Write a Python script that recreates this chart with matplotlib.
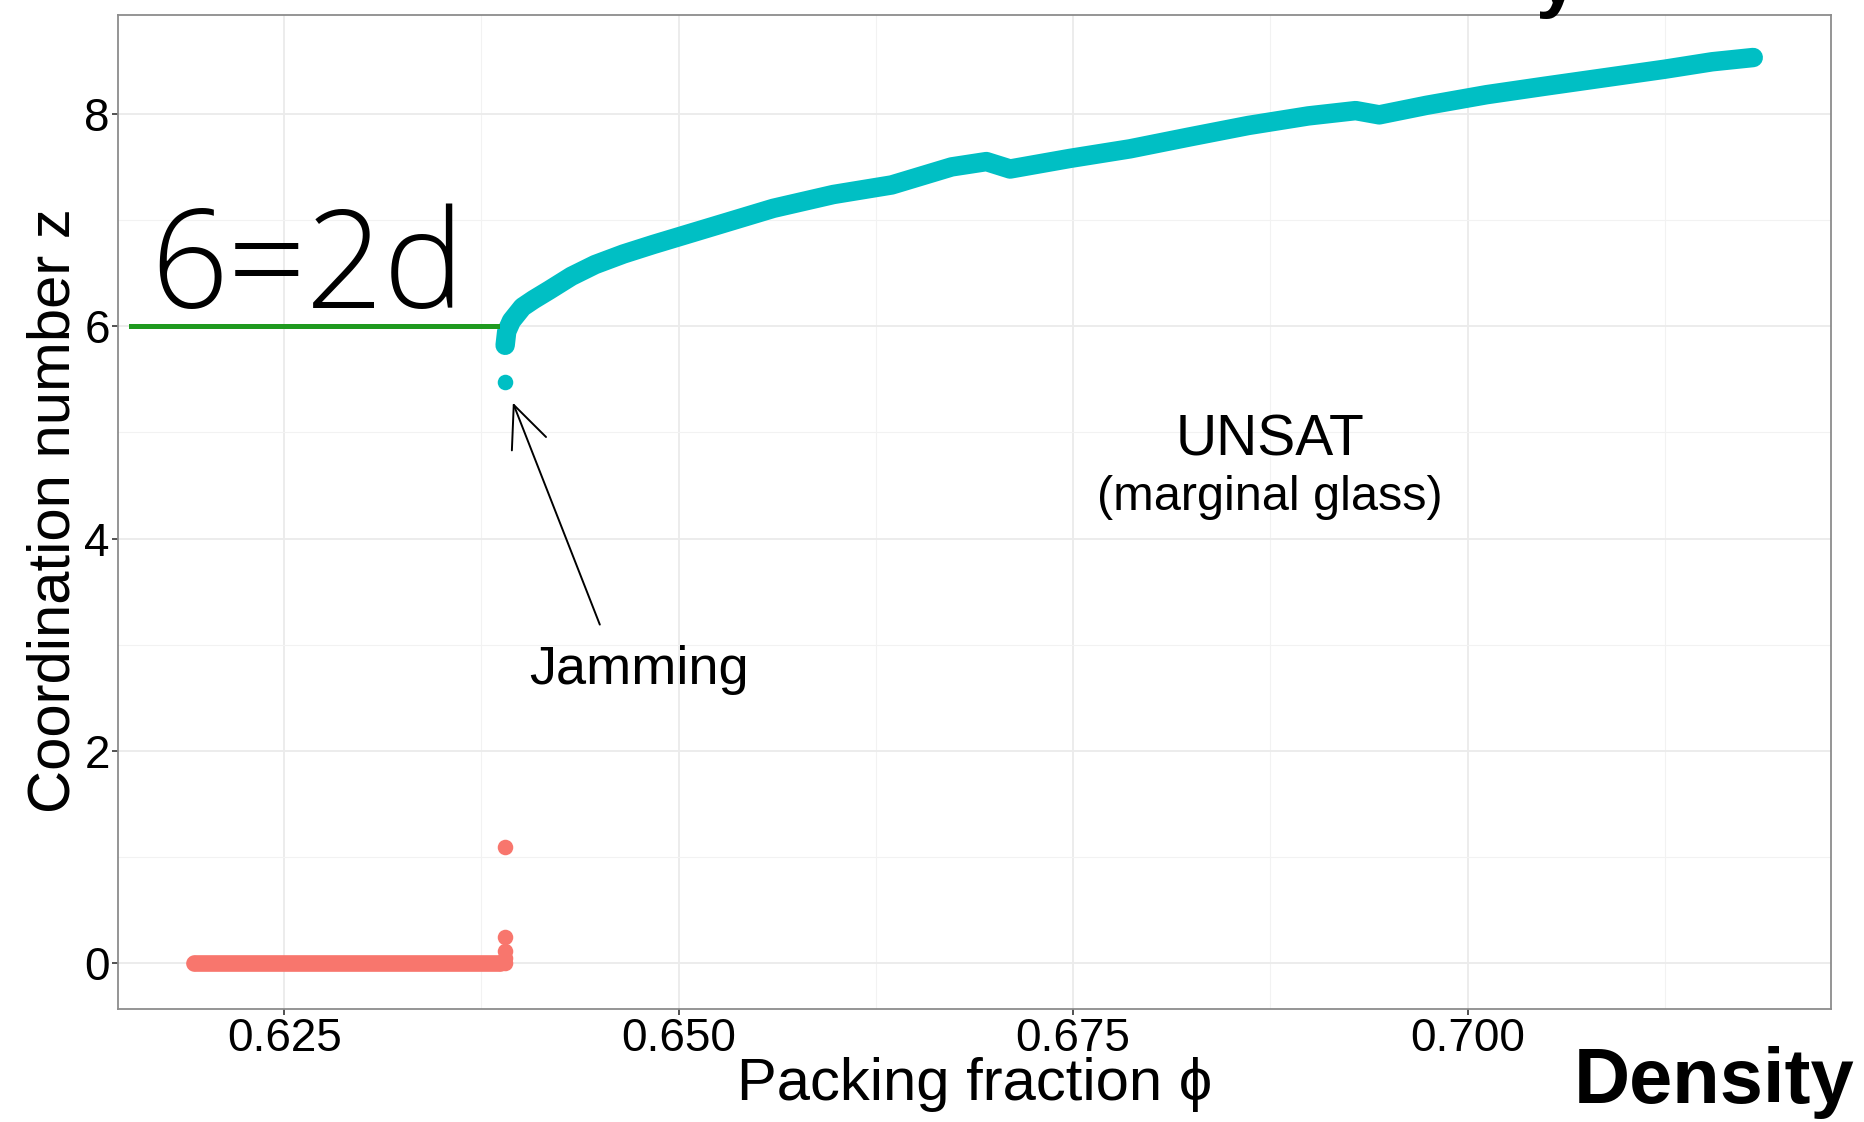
# jamming.py
# Coordination number z versus packing fraction phi across the jamming point

import matplotlib.pyplot as plt
from matplotlib.ticker import MultipleLocator

plt.rcParams['font.family'] = ['Liberation Sans', 'DejaVu Sans']

# SAT side: no contacts (red)
phi_sat = [0.6193, 0.6387, 0.6390, 0.6390, 0.6390, 0.6390, 0.6390]
z_sat = [0.0, 0.0, 0.0, 0.05, 0.12, 0.25, 1.10]

# UNSAT side: jammed packings (cyan), first value is the lone point below the curve
phi_unsat = [0.6390, 0.6390, 0.6391, 0.6394, 0.6401, 0.6408, 0.6418, 0.6432,
             0.6447, 0.6465, 0.6484, 0.6522, 0.6560, 0.6598, 0.6635, 0.6673,
             0.6695, 0.6710, 0.6748, 0.6786, 0.6823, 0.6861, 0.6899, 0.6929,
             0.6944, 0.6974, 0.7012, 0.7049, 0.7087, 0.7125, 0.7155, 0.7181]
z_unsat = [5.47, 5.82, 5.95, 6.05, 6.18, 6.25, 6.34, 6.47,
           6.58, 6.68, 6.77, 6.94, 7.11, 7.24, 7.33, 7.50,
           7.55, 7.48, 7.58, 7.67, 7.78, 7.89, 7.98, 8.03,
           7.99, 8.08, 8.18, 8.26, 8.34, 8.42, 8.49, 8.53]

# isostatic value z = 2d
phi_iso = [0.6153, 0.63846]
z_iso = [6.0, 6.0]

x_ticks = [0.625, 0.650, 0.675, 0.700]
x_ticklabels = ['0.625', '0.650', '0.675', '0.700']
y_ticks = [0, 2, 4, 6, 8]

red = '#F8766D'
cyan = '#00BFC4'

fig = plt.figure(figsize=(18.65, 11.22), dpi=100)
ax = fig.add_axes([0.0634, 0.1007, 0.9183, 0.8859])

# dense clouds of points look like a thick band
ax.plot(phi_sat[:2], z_sat[:2], '-', color=red, lw=12, solid_capstyle='round', zorder=3)
ax.scatter(phi_sat, z_sat, s=125, color=red, linewidths=0, zorder=3)
ax.plot(phi_unsat[1:], z_unsat[1:], '-', color=cyan, lw=14, solid_capstyle='round',
        solid_joinstyle='round', zorder=3)
ax.scatter(phi_unsat, z_unsat, s=125, color=cyan, linewidths=0, zorder=3)

ax.plot(phi_iso, z_iso, '-', color='#1f9a1f', lw=3.6, zorder=4)

ax.set_xlim(0.61448, 0.72302)
ax.set_ylim(-0.43, 8.93)
ax.set_xticks(x_ticks)
ax.set_xticklabels(x_ticklabels)
ax.set_yticks(y_ticks)
ax.xaxis.set_minor_locator(MultipleLocator(0.0125))
ax.yaxis.set_minor_locator(MultipleLocator(1))
ax.grid(True, which='major', color='#EBEBEB', lw=1.3, zorder=0)
ax.grid(True, which='minor', color='#F2F2F2', lw=0.8, zorder=0)
ax.set_axisbelow(True)
ax.tick_params(which='major', length=4, width=1.2, color='#333333',
               labelsize=33, labelcolor='black', pad=2)
ax.tick_params(which='minor', length=0)
for s in ax.spines.values():
    s.set_color('#8c8c8c')
    s.set_linewidth(1.3)

# annotations
ax.text(0.61650, 6.17, '6=2d', fontsize=98, family=['Open Sans', 'Roboto', 'DejaVu Sans'],
        fontweight=300, ha='left', va='baseline', zorder=5)
ax.text(0.68746, 4.78, 'UNSAT', fontsize=41, ha='center', va='baseline')
ax.text(0.68746, 4.39, '(marginal glass)', fontsize=35, ha='center', va='center')
ax.text(0.64748, 2.76, 'Jamming', fontsize=39, ha='center', va='center')
ax.annotate('', xy=(0.63949, 5.28), xytext=(0.6450, 3.19),
            arrowprops=dict(arrowstyle='->,head_length=0.5,head_width=0.22',
                            lw=1.4, color='black', mutation_scale=60,
                            shrinkA=0, shrinkB=0))

fig.text(0.0290, 0.5446, 'Coordination number z', fontsize=43, rotation=90,
         ha='center', va='center')
fig.text(0.5228, 0.0196, 'Packing fraction ϕ', fontsize=43, ha='center', va='baseline')
fig.text(0.9190, 0.0170, 'Density', fontsize=56, fontweight='bold', ha='center',
         va='baseline')
# descender of a clipped title word at the very top
fig.text(0.8350, 0.997, 'y', fontsize=56, fontweight='bold', ha='center', va='baseline')

fig.savefig('out.png', dpi=100)
